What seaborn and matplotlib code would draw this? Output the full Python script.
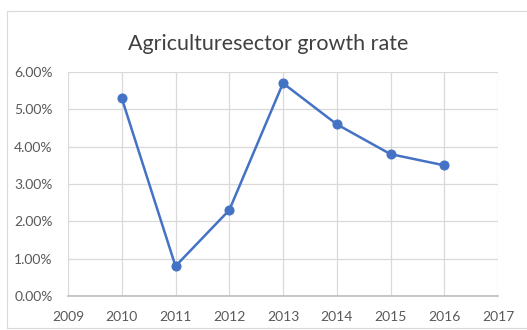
import matplotlib
matplotlib.use("Agg")
import matplotlib.pyplot as plt
import seaborn as sns
import pandas as pd
from matplotlib.ticker import FuncFormatter, MultipleLocator
from matplotlib.patches import Rectangle

years = [2010, 2011, 2012, 2013, 2014, 2015, 2016]
growth = [5.3, 0.8, 2.3, 5.7, 4.6, 3.8, 3.5]
title = "Agriculturesector growth rate"

df = pd.DataFrame({"year": years, "growth": growth})

sns.set_theme(style="white")
plt.rcParams["font.family"] = ["Lato", "DejaVu Sans"]

fig = plt.figure(figsize=(5.27, 3.3), dpi=100)
ax = fig.add_axes([68/527, 1-296/330, (498-68)/527, (296-72)/330])

fig.patches.append(Rectangle((7/527, 2/330), 1.0, 317/330, transform=fig.transFigure,
                             fill=False, edgecolor="#d9d9d9", linewidth=0.8))

sns.lineplot(data=df, x="year", y="growth", ax=ax, color="#4472C4", linewidth=1.8,
             marker="o", markersize=6.5, markeredgecolor="#4472C4")

ax.set_xlim(2009, 2017)
ax.set_ylim(0, 6)
ax.xaxis.set_major_locator(MultipleLocator(1))
ax.yaxis.set_major_locator(MultipleLocator(1))
ax.yaxis.set_major_formatter(FuncFormatter(lambda v, p: f"{v:.2f}%"))
ax.grid(True, color="#d9d9d9", linewidth=0.9)
ax.set_axisbelow(True)
for s in ["top", "right", "left"]:
    ax.spines[s].set_visible(False)
ax.spines["bottom"].set_color("#bfbfbf")
ax.tick_params(axis="both", length=0, labelsize=10, colors="#595959")
ax.tick_params(axis="x", pad=11)
ax.tick_params(axis="y", pad=11)
ax.set_xlabel("")
ax.set_ylabel("")
fig.text(0.508, 1-44/330, title, ha="center", va="center", fontsize=15.5, color="#404040")

fig.savefig("out.png", dpi=100)
